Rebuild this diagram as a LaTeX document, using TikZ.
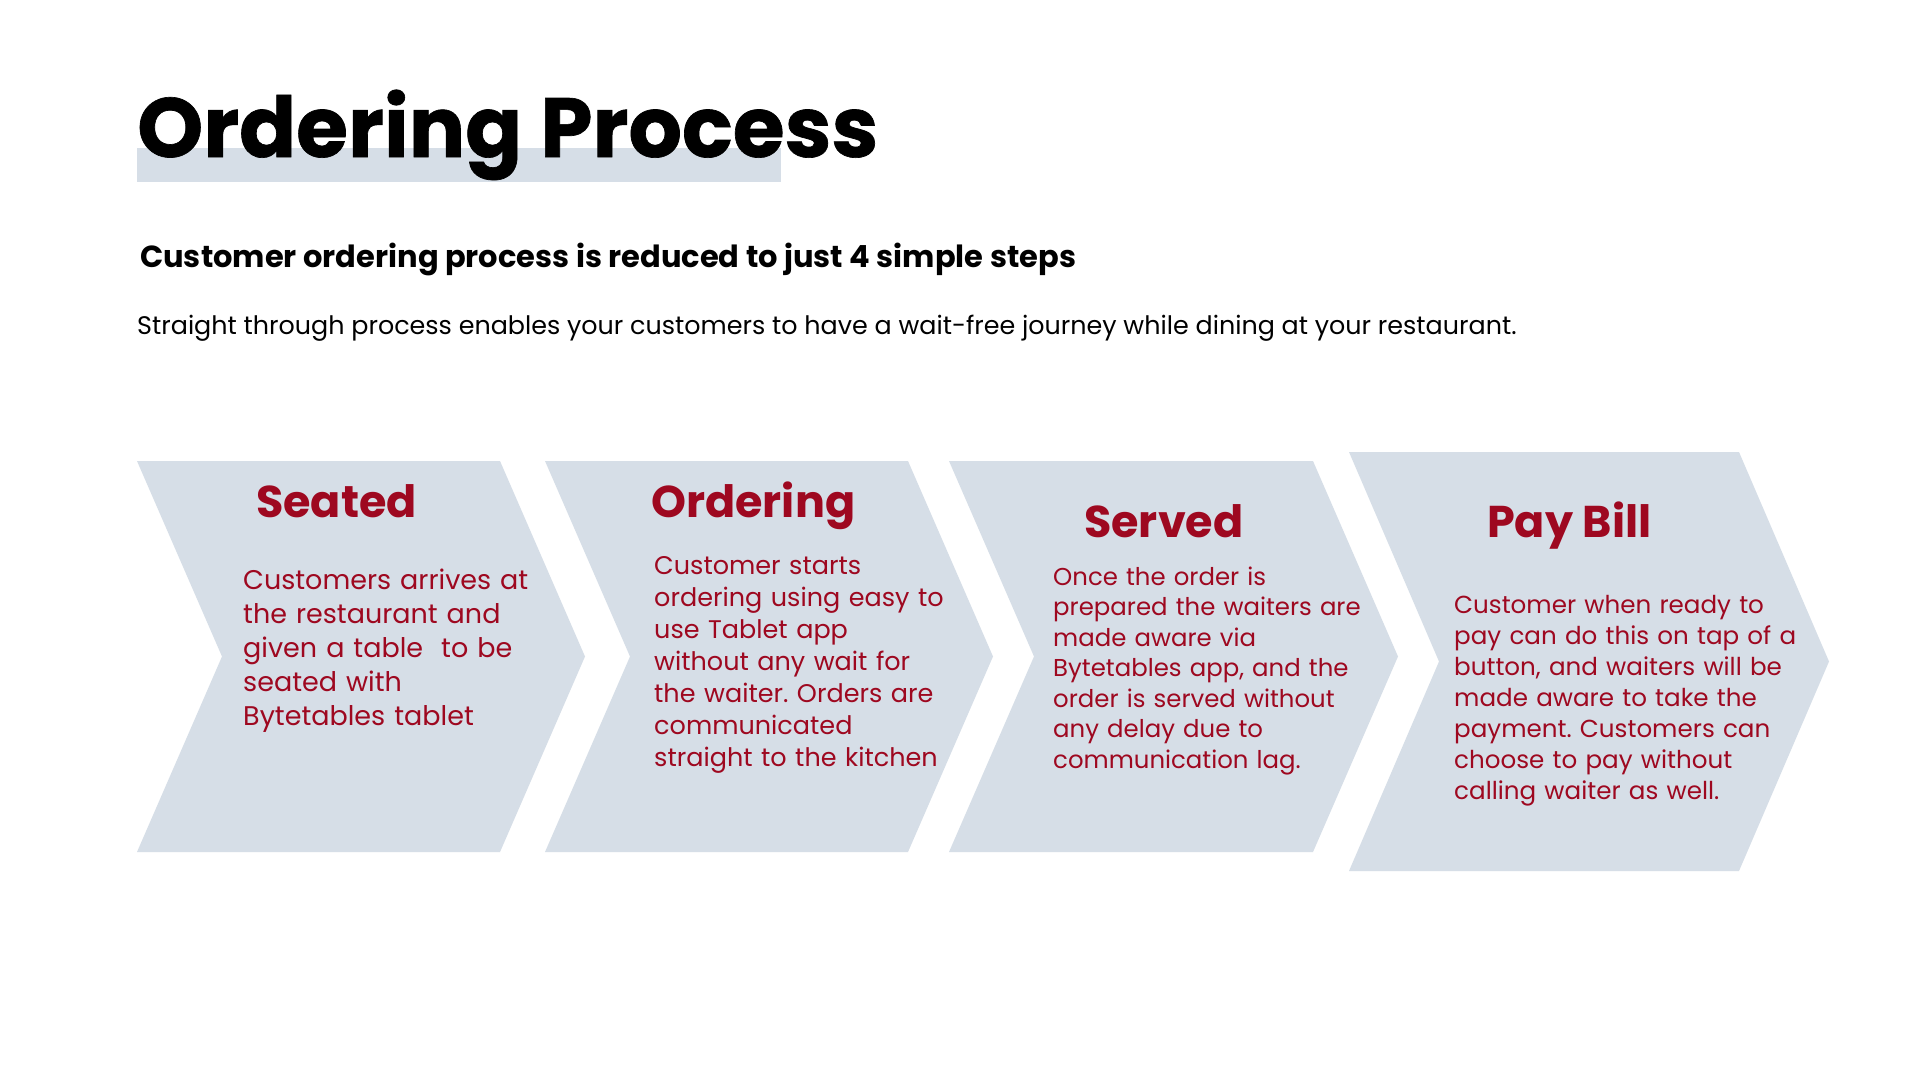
\documentclass[tikz,border=0pt]{standalone}
\usepackage{fontspec}
\setmainfont{Poppins}
\newfontfamily\heavyfont{Poppins}[BoldFeatures={FakeBold=0.8}]
\usetikzlibrary{calc}
\definecolor{chevgray}{RGB}{214,222,231}
\definecolor{stepred}{RGB}{158,8,32}
\tikzset{
  plaintext/.style={inner sep=0pt, anchor=base west},
  stephead/.style={plaintext, text=stepred, font=\bfseries\fontsize{44.5}{44.5}\selectfont},
  stepbody/.style={plaintext, text=stepred, align=left, text width=360pt}
}
% chevron: left x, top y, right x, bottom y, tip depth
\newcommand{\createchev}[5]{\fill[chevgray] ( #1 , #2 ) -- ( #3 , #2 ) -- ( {#3+#5} , {(#2+#4)/2} ) -- ( #3 , #4 ) -- ( #1 , #4 ) -- ( {#1+#5} , {(#2+#4)/2} ) -- cycle;}

\begin{document}
\frenchspacing
\begin{tikzpicture}[x=1pt,y=-1pt]
    \useasboundingbox[fill=white] (0,0) rectangle (1920,1080);
    %heading
    \fill[chevgray] (137,148) rectangle (781,182);
    \node[plaintext, font=\heavyfont\bfseries\fontsize{84}{84}\selectfont] (title) at (137,157) {Ordering Process};
    \node[plaintext, font=\bfseries\fontsize{30.5}{30.5}\selectfont] (lead) at (140,267) {Customer ordering process is reduced to just 4 simple steps};
    \node[plaintext, font=\fontsize{25.4}{25.4}\selectfont] (intro) at (137,334) {Straight through process enables your customers to have a wait-free journey while dining at your restaurant.};
    %chevrons
    \createchev{137}{461}{500}{852}{85}
    \createchev{545}{461}{908}{852}{85}
    \createchev{949}{461}{1313}{852}{85}
    \createchev{1349}{452}{1739}{871}{90}
    %steps
    \node[stephead] (seated) at (256,517) {Seated};
    \node[stepbody, font=\fontsize{27}{34}\selectfont] (seatedtxt) at (243,589) {Customers arrives at\\the restaurant and\\given a table\ \ to be\\seated with\\Bytetables tablet};
    \node[stephead] (ordering) at (651,517) {Ordering};
    \node[stepbody, font=\fontsize{25.5}{32}\selectfont] (orderingtxt) at (654,574) {Customer starts\\ordering using easy to\\use Tablet app\\without any wait for\\the waiter. Orders are\\communicated\\straight to the kitchen};
    \node[stephead] (served) at (1084,537) {Served};
    \node[stepbody, font=\fontsize{24.4}{30.5}\selectfont] (servedtxt) at (1053,585) {Once the order is\\prepared the waiters are\\made aware via\\Bytetables app, and the\\order is served without\\any delay due to\\communication lag.};
    \node[stephead] (paybill) at (1487,537) {Pay Bill};
    \node[stepbody, font=\fontsize{24.6}{31}\selectfont] (paybilltxt) at (1454,613) {Customer when ready to\\pay can do this on tap of a\\button, and waiters will be\\made aware to take the\\payment. Customers can\\choose to pay without\\calling waiter as well.};
\end{tikzpicture}
\end{document}
